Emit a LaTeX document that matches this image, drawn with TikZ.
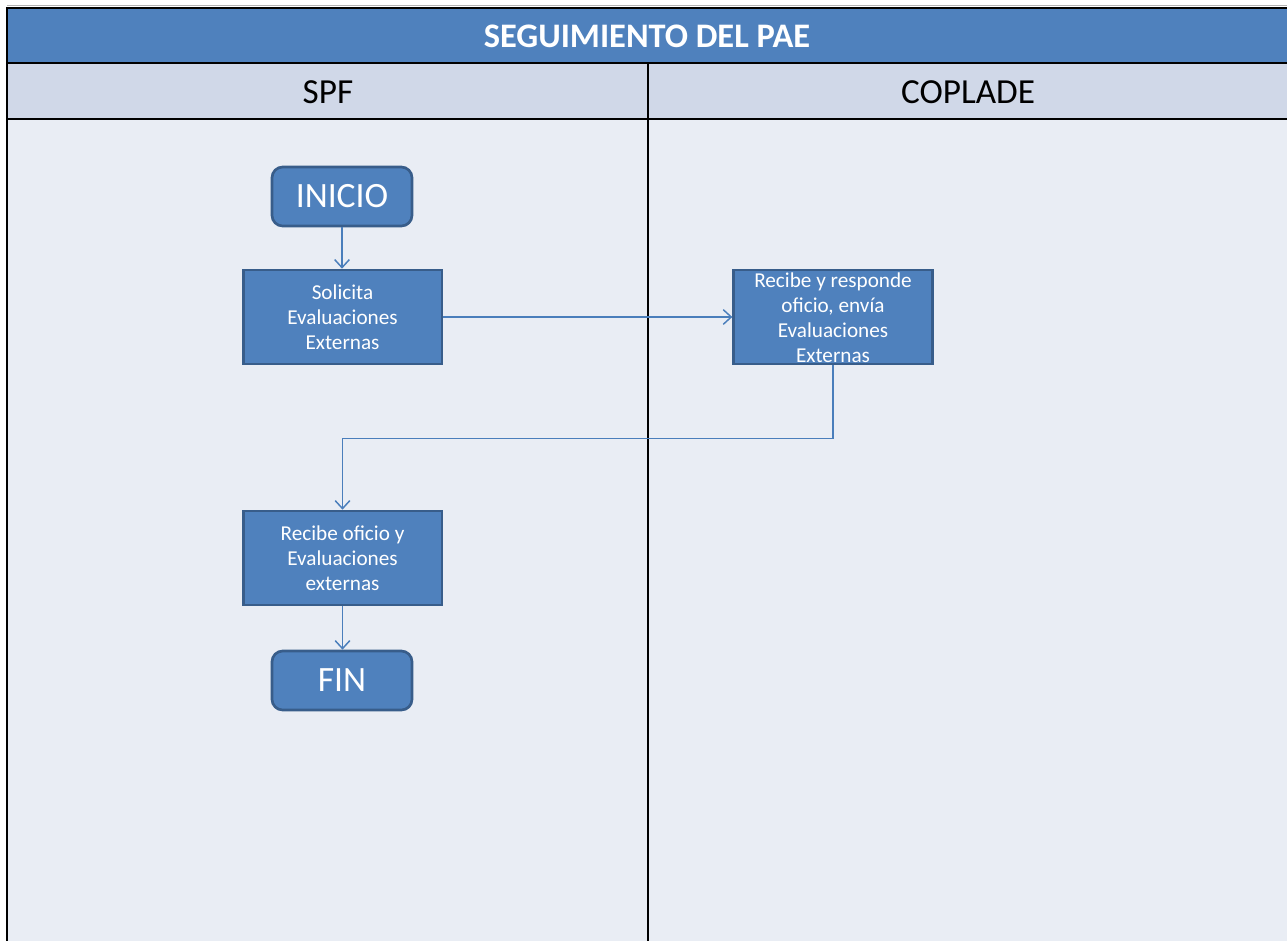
\documentclass[tikz,border=0pt]{standalone}
\usepackage{fontspec}
\setmainfont{Carlito}
\usetikzlibrary{arrows.meta}
\definecolor{titleblue}{HTML}{4F81BD}
\definecolor{headgray}{HTML}{D0D8E8}
\definecolor{bodygray}{HTML}{E9EDF4}
\definecolor{boxfill}{HTML}{4F81BD}
\definecolor{boxline}{HTML}{385D8A}
\definecolor{arrcol}{HTML}{4A7EBB}
\newcommand\boxtxt[1]{\smash{\raisebox{-3pt}{\parbox[c]{140pt}{\centering\fontsize{15.9pt}{18.75pt}\selectfont #1}}}}
\tikzset{
  lane/.style={draw=black, line width=1.5pt},
  procbox/.style={draw=boxline, fill=boxfill, line width=2pt, text=white,
    minimum width=149pt, minimum height=70.5pt, inner sep=0pt},
  termbox/.style={draw=boxline, fill=boxfill, line width=2pt, text=white,
    rounded corners=8pt, minimum width=105pt, minimum height=44.25pt, inner sep=0pt,
    font=\fontsize{26.7pt}{31pt}\selectfont},
  arr/.style={draw=arrcol, line width=1.2pt, -{Straight Barb[length=6pt,width=11pt,line width=1.1pt]}},
  headtxt/.style={font=\fontsize{26.4pt}{31pt}\selectfont, text=black},
}
\begin{document}
\begin{tikzpicture}[x=0.75pt, y=-0.75pt]
\useasboundingbox (0,0) rectangle (1287,940);
\clip (0,0) rectangle (1287,940);
% bands
\fill[titleblue] (7,8) rectangle (1300,63);
\fill[headgray] (7,63) rectangle (1300,119);
\fill[bodygray] (7,119) rectangle (1300,950);
\draw[gray!60, line width=0.75pt] (7,5.5) -- (1300,5.5);
\draw[lane] (1300,8) -- (7,8) -- (7,950);
\draw[lane] (7,63) -- (1300,63);
\draw[lane] (7,119) -- (1300,119);
\draw[lane] (648,63) -- (648,950);
% titles
\node[font=\bfseries\fontsize{25.8pt}{29pt}\selectfont, text=white] (title) at (647,36) {SEGUIMIENTO DEL PAE};
\node[headtxt] (spf) at (328,92) {SPF};
\node[headtxt] (coplade) at (968,92) {COPLADE};
% nodes
\node[termbox] (inicio) at (342,196.5) {INICIO};
\node[procbox] (sol) at (342.5,317) {\boxtxt{Solicita\\Evaluaciones\\Externas}};
\node[procbox] (rec) at (833,317) {\boxtxt{Recibe y responde\\oficio, envía\\Evaluaciones\\Externas}};
\node[procbox] (ofi) at (342.5,558) {\boxtxt{Recibe oficio y\\Evaluaciones\\externas}};
\node[termbox] (fin) at (342,680.5) {FIN};
% connectors
\draw[arr] (inicio) -- (inicio |- sol.north);
\draw[arr] (sol) -- (rec);
\draw[arr] (rec.south) -- ++(0,73) -| (ofi.north);
\draw[arr] (ofi) -- (ofi |- fin.north);
\end{tikzpicture}
\end{document}
